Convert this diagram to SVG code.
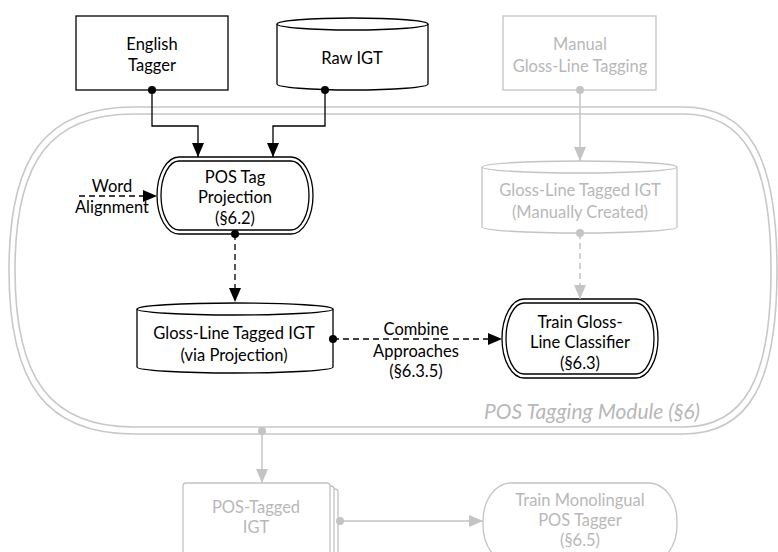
<svg xmlns="http://www.w3.org/2000/svg" width="778" height="552" viewBox="0 0 778 552">
<style>
text{font-family:"Lato","Open Sans","DejaVu Sans",sans-serif;font-size:16.5px;text-anchor:middle;fill:#000}
.g text,text.g{fill:#b8b8b8}
.n{fill:#fff;stroke:#000;stroke-width:1.3}
.gn{fill:#fff;stroke:#c4c4c4;stroke-width:1.3}
.e{fill:none;stroke:#000;stroke-width:1.3}
.ge{fill:none;stroke:#c4c4c4;stroke-width:1.5}
.d{stroke-dasharray:6 4}
.dot{fill:#000}
.gdot{fill:#c4c4c4}
.mod{fill:none;stroke:#c8c8c8;stroke-width:1.6}
</style>
<defs>
<marker id="ab" markerUnits="userSpaceOnUse" markerWidth="15" markerHeight="13" refX="14" refY="6.5" orient="auto"><path d="M0,0.5 L14,6.5 L0,12.5 z" fill="#000"/></marker>
<marker id="ag" markerUnits="userSpaceOnUse" markerWidth="15" markerHeight="13" refX="14" refY="6.5" orient="auto"><path d="M0,0.5 L14,6.5 L0,12.5 z" fill="#c4c4c4"/></marker>
</defs>
<rect width="778" height="552" fill="#fff"/>

<g id="module">
<path class="mod" d="M134,107 H683 C749,107 777,156 777,270 C777,384 749,434 683,434 H134 C46,434 9,384 9,270 C9,156 46,107 134,107 Z"/>
<path class="mod" d="M134,114 H683 C744,114 771,160 771,270 C771,380 744,427 683,427 H134 C51,427 15,380 15,270 C15,160 51,114 134,114 Z"/>
<text x="700" y="419" style="text-anchor:end;font-style:italic;font-size:21px;fill:#b8b8b8">POS Tagging Module (§6)</text>
</g>

<g id="english-tagger">
<rect class="n" x="76" y="16" width="152" height="74"/>
<text x="152" y="50">English</text>
<text x="152" y="71">Tagger</text>
</g>

<g id="raw-igt">
<path class="n" d="M277,24 A75.5,6 0 0 1 428,24 V84 A75.5,6 0 0 1 277,84 Z"/>
<path class="e" d="M277,24 A75.5,6 0 0 0 428,24"/>
<text x="352" y="64">Raw IGT</text>
</g>

<g id="manual-tagging" class="g">
<rect class="gn" x="503" y="16" width="153" height="74"/>
<text x="580" y="50">Manual</text>
<text x="580" y="72">Gloss-Line Tagging</text>
</g>

<g id="pos-tag-projection">
<rect class="n" x="157" y="157" width="156" height="77" rx="22" ry="38.5"/>
<rect class="n" x="161" y="161" width="148" height="69" rx="18" ry="34.5"/>
<text x="235" y="183">POS Tag</text>
<text x="235" y="203">Projection</text>
<text x="235" y="224">(§6.2)</text>
</g>

<g id="gloss-manual" class="g">
<path class="gn" d="M482,167 A97.5,6 0 0 1 677,167 V227 A97.5,6 0 0 1 482,227 Z"/>
<path class="ge" style="stroke-width:1.3" d="M482,167 A97.5,6 0 0 0 677,167"/>
<text x="580" y="196">Gloss-Line Tagged IGT</text>
<text x="580" y="218">(Manually Created)</text>
</g>

<g id="gloss-projection">
<path class="n" d="M137,309 A98,6 0 0 1 333,309 V367 A98,6 0 0 1 137,367 Z"/>
<path class="e" d="M137,309 A98,6 0 0 0 333,309"/>
<text x="234" y="339">Gloss-Line Tagged IGT</text>
<text x="234" y="361">(via Projection)</text>
</g>

<g id="train-classifier">
<rect class="n" x="502" y="299" width="156" height="79" rx="22" ry="39.5"/>
<rect class="n" x="506" y="303" width="148" height="71" rx="18" ry="35.5"/>
<text x="580" y="328">Train Gloss-</text>
<text x="580" y="348">Line Classifier</text>
<text x="580" y="369">(§6.3)</text>
</g>

<g id="pos-tagged-igt" class="g">
<rect class="gn" x="191" y="489" width="147" height="90" rx="3"/>
<rect class="gn" x="187" y="486" width="147" height="90" rx="3"/>
<rect class="gn" x="183" y="483" width="147" height="90" rx="3"/>
<text x="256" y="513">POS-Tagged</text>
<text x="256" y="533">IGT</text>
</g>

<g id="train-monolingual" class="g">
<rect class="gn" x="483" y="483" width="194" height="80" rx="28" ry="38"/>
<text x="580" y="506">Train Monolingual</text>
<text x="580" y="526">POS Tagger</text>
<text x="580" y="546">(§6.5)</text>
</g>

<g id="connectors">
<path class="e" d="M152,90 V126 H198 V157" marker-end="url(#ab)"/>
<circle class="dot" cx="152" cy="90" r="4"/>
<path class="e" d="M325,90 V126 H273 V157" marker-end="url(#ab)"/>
<circle class="dot" cx="325" cy="90" r="4"/>
<path class="e d" d="M79,196 H157" marker-end="url(#ab)"/>
<text x="112" y="192">Word</text>
<text x="112" y="213">Alignment</text>
<path class="e d" d="M235,234 V302" marker-end="url(#ab)"/>
<circle class="dot" cx="235" cy="234" r="4"/>
<path class="e d" d="M333,339 H502" marker-end="url(#ab)"/>
<circle class="dot" cx="333" cy="339" r="4"/>
<text x="416" y="335">Combine</text>
<text x="416" y="357">Approaches</text>
<text x="416" y="377">(§6.3.5)</text>
<path class="ge" d="M580,90 V161" marker-end="url(#ag)"/>
<circle class="gdot" cx="580" cy="90" r="4"/>
<path class="ge d" d="M580,233 V299" marker-end="url(#ag)"/>
<circle class="gdot" cx="580" cy="233" r="4"/>
<path class="ge" d="M262,431 V483" marker-end="url(#ag)"/>
<circle class="gdot" cx="262" cy="431" r="4"/>
<path class="ge" d="M340,521 H483" marker-end="url(#ag)"/>
<circle class="gdot" cx="340" cy="521" r="4"/>
</g>
</svg>
